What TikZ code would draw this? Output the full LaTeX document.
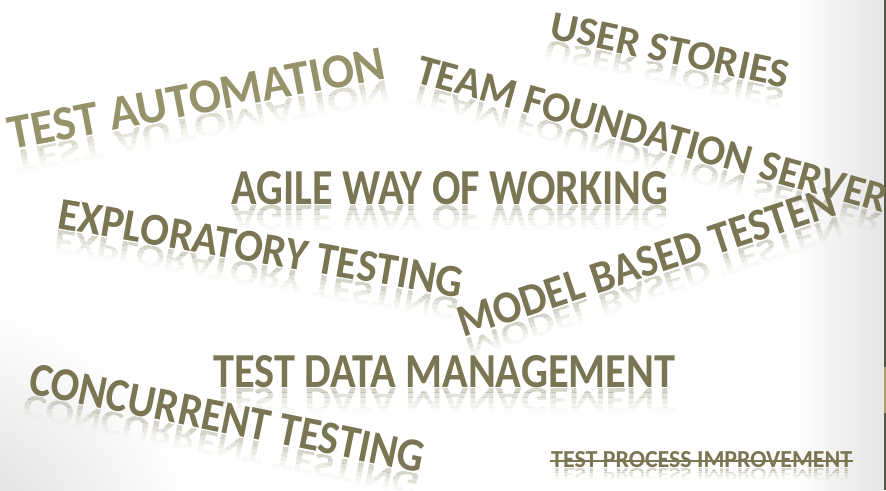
\documentclass[tikz,border=0pt]{standalone}
\usepackage{fontspec}
\setmainfont{Carlito}
\definecolor{olive}{RGB}{122,117,82}
\definecolor{olivelight}{RGB}{150,146,105}
\definecolor{edgedark}{RGB}{92,84,66}
\definecolor{edgetan}{RGB}{176,160,112}
\tikzset{
  wordtxt/.style={inner sep=0pt, anchor=base west, text=olive, font=\bfseries},
  wordrefl/.style={inner sep=0pt, anchor=base west, text=olive, font=\bfseries}
}
% [colour] name, x, y, angle, length, cap height, text
\newcommand{\wordart}[8][olive]{%
  \foreach \i/\o in {1/0.30,2/0.21,3/0.13,4/0.07,5/0.03}{%
    \begin{scope}[shift={(#3,#4)}, rotate=#5]
      \clip (-6,{1+#7*0.15*(\i-1)}) rectangle ({#6+6},{1+#7*0.15*\i});
      \node[wordrefl, text=#1, transform shape, yscale=-0.75, opacity=\o] (#2r\i) at (0,1) {\resizebox{#6pt}{#7pt}{#8}};
    \end{scope}
  }
  \node[wordtxt, text=#1, rotate=#5] (#2) at (#3,#4) {\resizebox{#6pt}{#7pt}{#8}};
}
\begin{document}
\begin{tikzpicture}[x=1pt,y=-1pt]
\useasboundingbox (0,0) rectangle (886,490);
\fill[white] (0,0) rectangle (886,490);
% soft grey corners
\shade[inner color=black!16, outer color=white] (-60,560) circle (260);
\shade[left color=white, right color=black!10] (790,0) rectangle (884,490);
% right edge bar
\fill[edgedark] (883.5,0) rectangle (886,490);
\fill[edgetan] (883.5,367) rectangle (886,413);

\wordart[olivelight]{auto}{11}{150}{10.8}{383}{32}{TEST AUTOMATION}
\wordart{user}{548}{38}{-11.9}{243}{27}{USER STORIES}
\wordart{tfs}{414}{82}{-15.6}{487}{28}{TEAM FOUNDATION SERVER}
\wordart{agile}{231}{204}{0}{437}{33}{AGILE WAY OF WORKING}
\wordart{expl}{56}{228}{-9.8}{410}{30}{EXPLORATORY TESTING}
\wordart{mbt}{463}{338}{18.2}{395}{30}{MODEL BASED TESTEN}
\wordart{tdm}{213}{387}{0}{462}{32}{TEST DATA MANAGEMENT}
\wordart{conc}{27}{393}{-11.5}{402}{31}{CONCURRENT TESTING}
\wordart{tpi}{551}{467}{0}{301}{16}{TEST PROCESS IMPROVEMENT}
\draw[olive, line width=1.6pt] ([xshift=-1pt,yshift=6pt]tpi.base west) -- ([xshift=1pt,yshift=6pt]tpi.base east);
\end{tikzpicture}
\end{document}
